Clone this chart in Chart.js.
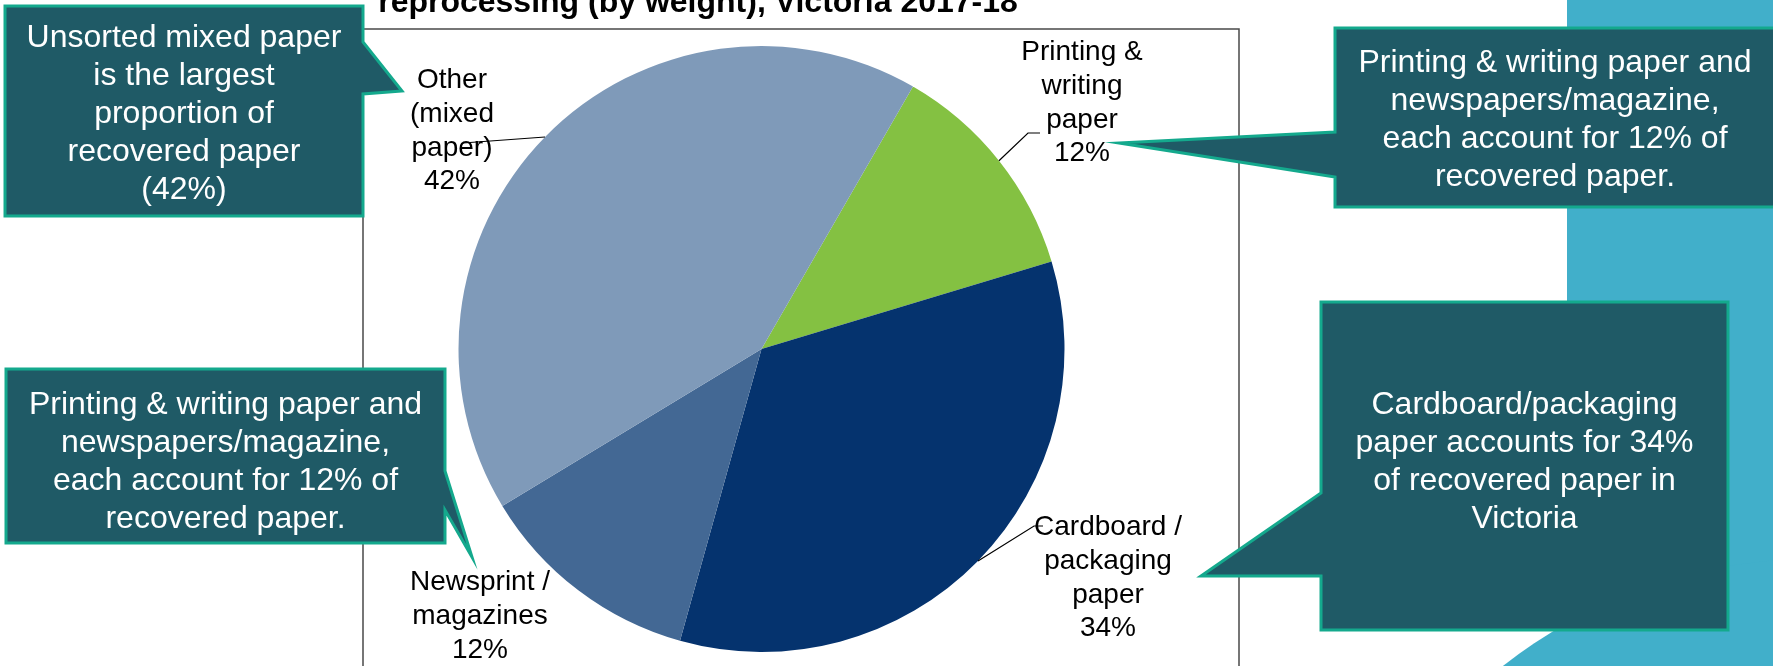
<!DOCTYPE html>
<html>
<head>
<meta charset="utf-8">
<script src="https://cdn.jsdelivr.net/npm/chart.js@4/dist/chart.umd.min.js"></script>
<style>
  html, body { margin: 0; padding: 0; background: #ffffff; }
  #wrap { width: 1773px; height: 666px; position: relative; overflow: hidden; }
  canvas { display: block; }
</style>
</head>
<body>
<div id="wrap"><canvas id="pie" width="1773" height="666"></canvas></div>
<script>
// Recovered paper by type (share of weight, %)
const categories = ['Printing & writing paper', 'Cardboard / packaging paper', 'Newsprint / magazines', 'Other (mixed paper)'];
const shares = [12, 34, 12, 42];
const sliceColors = ['#84C142', '#05336E', '#436894', '#7F9AB9'];
// Label text for each slice (the value line is added from the data)
const labelLines = [
  ['Printing &', 'writing', 'paper'],
  ['Cardboard /', 'packaging', 'paper'],
  ['Newsprint /', 'magazines'],
  ['Other', '(mixed', 'paper)']
];
const titleText = 'reprocessing (by weight), Victoria 2017-18';
const calloutTexts = [
  ['Unsorted mixed paper', 'is the largest', 'proportion of', 'recovered paper', '(42%)'],
  ['Printing & writing paper and', 'newspapers/magazine,', 'each account for 12% of', 'recovered paper.'],
  ['Cardboard/packaging', 'paper accounts for 34%', 'of recovered paper in', 'Victoria'],
  ['Printing & writing paper and', 'newspapers/magazine,', 'each account for 12% of', 'recovered paper.']
];

const FONT = '"Liberation Sans", Arial, Helvetica, sans-serif';
const BOX_FILL = '#1F5A66';
const BOX_EDGE = '#14A98D';
const PANEL = '#41AFCA';

// Layout of the slide decoration and callouts
const frame = { left: 363, top: 29, right: 1239 };
const callouts = [
  { x0: 5, y0: 6, x1: 363, y1: 216, textDy: 0, tail: { side: 'right', a: 42, b: 94, tipX: 402, tipY: 91 } },
  { x0: 1335, y0: 28, x1: 1778, y1: 207, textDy: 0, tail: { side: 'left', a: 132, b: 177, tipX: 1119, tipY: 143 } },
  { x0: 1321, y0: 302, x1: 1728, y1: 630, textDy: -7, tail: { side: 'left', a: 493, b: 576, tipX: 1201, tipY: 576 } },
  { x0: 6, y0: 369, x1: 445, y1: 543, textDy: 3, tail: { side: 'right', a: 471, b: 510, tipX: 472, tipY: 557 } }
];
// Label placement: centre x, first baseline, optional elbow and end of leader line
const labelPlace = [
  { cx: 1082, y: 60, elbow: [1028, 133], end: [1040, 133] },
  { cx: 1108, y: 535, elbow: [1034, 526], end: [1043, 526] },
  { cx: 480, y: 590, elbow: null, end: null },
  { cx: 452, y: 88, elbow: null, end: [463, 143] }
];

function drawLines(ctx, lines, cx, cy, size, lh, color) {
  ctx.save();
  ctx.font = size + 'px ' + FONT;
  ctx.fillStyle = color;
  ctx.textAlign = 'center';
  ctx.textBaseline = 'alphabetic';
  const n = lines.length;
  lines.forEach((t, i) => {
    ctx.fillText(t, cx, cy + size * 0.36 + (i - (n - 1) / 2) * lh);
  });
  ctx.restore();
}

const backdrop = {
  id: 'backdrop',
  beforeDraw(chart) {
    const ctx = chart.ctx;
    ctx.save();
    ctx.fillStyle = '#ffffff';
    ctx.fillRect(0, 0, chart.width, chart.height);
    // right-hand panel with rounded lower corner
    ctx.fillStyle = PANEL;
    ctx.fillRect(1567, 0, chart.width - 1567, chart.height);
    ctx.beginPath();
    ctx.arc(1812, 1059, 500, 0, Math.PI * 2);
    ctx.fill();
    // plot frame
    ctx.strokeStyle = '#4a4a4a';
    ctx.lineWidth = 1.5;
    ctx.beginPath();
    ctx.moveTo(frame.left, chart.height + 5);
    ctx.lineTo(frame.left, frame.top);
    ctx.lineTo(frame.right, frame.top);
    ctx.lineTo(frame.right, chart.height + 5);
    ctx.stroke();
    // title (second line of the chart heading)
    ctx.font = 'bold 32px ' + FONT;
    ctx.fillStyle = '#000000';
    ctx.textAlign = 'center';
    ctx.textBaseline = 'alphabetic';
    ctx.fillText(titleText, 698, 12);
    ctx.restore();
  }
};

const sliceLabels = {
  id: 'sliceLabels',
  afterDatasetsDraw(chart) {
    const ctx = chart.ctx;
    const meta = chart.getDatasetMeta(0);
    const total = shares.reduce((a, b) => a + b, 0);
    meta.data.forEach((arc, i) => {
      const p = labelPlace[i];
      const mid = (arc.startAngle + arc.endAngle) / 2;
      const ex = arc.x + Math.cos(mid) * arc.outerRadius;
      const ey = arc.y + Math.sin(mid) * arc.outerRadius;
      if (p.end) {
        ctx.save();
        ctx.strokeStyle = '#000000';
        ctx.lineWidth = 1.2;
        ctx.beginPath();
        ctx.moveTo(ex, ey);
        if (p.elbow) ctx.lineTo(p.elbow[0], p.elbow[1]);
        ctx.lineTo(p.end[0], p.end[1]);
        ctx.stroke();
        ctx.restore();
      }
      const pct = Math.round(shares[i] / total * 100) + '%';
      const lines = labelLines[i].concat([pct]);
      ctx.save();
      ctx.font = '28px ' + FONT;
      ctx.fillStyle = '#000000';
      ctx.textAlign = 'center';
      ctx.textBaseline = 'alphabetic';
      lines.forEach((t, k) => ctx.fillText(t, p.cx, p.y + k * 33.8));
      ctx.restore();
    });
  }
};

const calloutLayer = {
  id: 'calloutLayer',
  afterDraw(chart) {
    const ctx = chart.ctx;
    callouts.forEach((c, i) => {
      const t = c.tail;
      ctx.save();
      ctx.beginPath();
      ctx.moveTo(c.x0, c.y0);
      ctx.lineTo(c.x1, c.y0);
      if (t.side === 'right') {
        ctx.lineTo(c.x1, t.a);
        ctx.lineTo(t.tipX, t.tipY);
        ctx.lineTo(c.x1, t.b);
      }
      ctx.lineTo(c.x1, c.y1);
      ctx.lineTo(c.x0, c.y1);
      if (t.side === 'left') {
        ctx.lineTo(c.x0, t.b);
        ctx.lineTo(t.tipX, t.tipY);
        ctx.lineTo(c.x0, t.a);
      }
      ctx.closePath();
      ctx.fillStyle = BOX_FILL;
      ctx.fill();
      ctx.lineWidth = 3;
      ctx.lineJoin = 'miter';
      ctx.strokeStyle = BOX_EDGE;
      ctx.stroke();
      ctx.restore();
      drawLines(ctx, calloutTexts[i], (c.x0 + Math.min(c.x1, 1775)) / 2, (c.y0 + c.y1) / 2 + c.textDy, 32, 38, '#ffffff');
    });
  }
};

new Chart(document.getElementById('pie'), {
  type: 'pie',
  data: {
    labels: categories,
    datasets: [{
      data: shares,
      backgroundColor: sliceColors,
      borderWidth: 0,
      hoverOffset: 0
    }]
  },
  options: {
    responsive: false,
    animation: false,
    rotation: 30,
    layout: { padding: { left: 458.5, right: 708.5, top: 46, bottom: 14 } },
    plugins: {
      legend: { display: false },
      tooltip: { enabled: false },
      title: { display: false }
    },
    events: []
  },
  plugins: [backdrop, sliceLabels, calloutLayer]
});
</script>
</body>
</html>
